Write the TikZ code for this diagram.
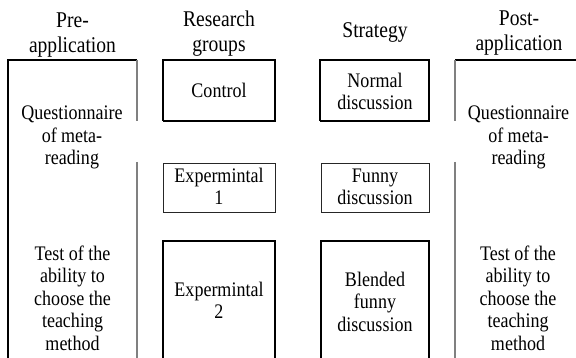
\documentclass[tikz,border=0pt]{standalone}
\usepackage{fontspec}
\setmainfont{Liberation Serif}[FakeStretch=0.87]
\tikzset{
  head/.style={anchor=base, align=center, inner sep=0pt, font=\fontsize{22.5}{25}\selectfont},
  body/.style={anchor=base, align=center, inner sep=0pt, font=\fontsize{20.7}{22.5}\selectfont},
  boxline/.style={draw=black, line width=1.3pt},
  thinbox/.style={draw=black!85, line width=0.9pt},
  grayline/.style={draw=black!50, line width=1.2pt},
}
\begin{document}
\begin{tikzpicture}[x=1pt,y=-1pt]
\useasboundingbox (0,0) rectangle (576,358);
% headers (anchor = baseline of last line)
\node[head] (hpre) at (72.5,53) {Pre-\\application};
\node[head] (hres) at (219,52) {Research\\groups};
\node[head] (hstr) at (375,38) {Strategy};
\node[head] (hpost) at (519,51) {Post-\\application};
% pre-application frame
\draw[boxline] (8,358) -- (8,60) -- (137,60);
\draw[grayline] (137,60) -- (137,121);
\draw[grayline] (137,162) -- (137,358);
% post-application frame
\draw[boxline] (455,60) -- (576,60);
\draw[grayline] (455,60) -- (455,121);
\draw[grayline] (455,162) -- (455,358);
% research group boxes
\draw[boxline] (163,121) -- (163,60) -- (275,60) -- (275,121);
\draw[black, line width=2.6pt] (162.5,121) -- (275.7,121);
\draw[thinbox] (163,163) rectangle (275,212);
\draw[boxline] (163,358) -- (163,241) -- (275,241) -- (275,358);
% strategy boxes
\draw[boxline] (320,121) -- (320,60) -- (429,60) -- (429,121);
\draw[black, line width=2.6pt] (319.5,121) -- (429.7,121);
\draw[thinbox] (321,163) rectangle (429,212);
\draw[boxline] (321,358) -- (321,241) -- (429,241) -- (429,358);
% texts
\node[body] (q1) at (72,165) {Questionnaire\\of meta-\\reading};
\node[body] (q2) at (518.5,165) {Questionnaire\\of meta-\\reading};
\node[body] (t1) at (72.5,350) {Test of the\\ability to\\choose the\\teaching\\method};
\node[body] (t2) at (518,350) {Test of the\\ability to\\choose the\\teaching\\method};
\node[body] (ctrl) at (219,98) {Control};
\node[body] (e1) at (219,205) {Expermintal\\1};
\node[body] (e2) at (219,319) {Expermintal\\2};
\node[body] (nd) at (375,110) {Normal\\discussion};
\node[body] (fd) at (375,205) {Funny\\discussion};
\node[body] (bd) at (375,331) {Blended\\funny\\discussion};
\end{tikzpicture}
\end{document}
